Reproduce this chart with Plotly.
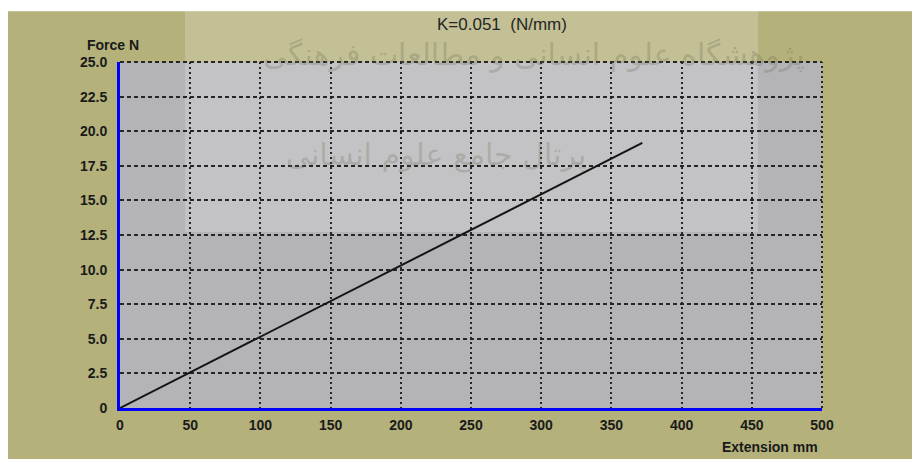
import plotly.graph_objects as go

# Data
extension_mm = [0, 372]
force_n = [0, 19.15]

x_tickvals = [0, 50, 100, 150, 200, 250, 300, 350, 400, 450, 500]
x_ticktext = ["0", "50", "100", "150", "200", "250", "300", "350", "400", "450", "500"]
y_tickvals = [0, 2.5, 5.0, 7.5, 10.0, 12.5, 15.0, 17.5, 20.0, 22.5, 25.0]
y_ticktext = ["0", "2.5", "5.0", "7.5", "10.0", "12.5", "15.0", "17.5", "20.0", "22.5", "25.0"]

title_text = "K=0.051  (N/mm)"
y_label = "Force N"
x_label = "Extension mm"
watermark_1 = "پژوهشگاه علوم انسانی و مطالعات فرهنگی"
watermark_2 = "پرتال جامع علوم انسانی"

OLIVE = "#b4b17b"
PLOT_GRAY = "#b4b4b8"
FONT = "Liberation Sans, Arial, sans-serif"
TXT = "#1a1a1a"
GRID = "#262626"

fig = go.Figure()
fig.add_trace(go.Scatter(
    x=extension_mm, y=force_n, mode="lines",
    line=dict(color="#141414", width=2),
    hoverinfo="skip", showlegend=False,
))

fig.update_layout(
    width=912, height=451,
    margin=dict(l=112, r=98, t=54, b=51),
    paper_bgcolor=OLIVE,
    plot_bgcolor=PLOT_GRAY,
    showlegend=False,
    xaxis=dict(
        range=[0, 500], tickvals=x_tickvals, ticktext=x_ticktext,
        showgrid=True, gridcolor=GRID, griddash="2px,3px", gridwidth=2,
        showline=True, linecolor="#0000ff", linewidth=3,
        zeroline=False, ticks="",
        tickfont=dict(family=FONT, size=14, color=TXT, weight=700),
        ticklabelstandoff=2,
    ),
    yaxis=dict(
        range=[0, 25], tickvals=y_tickvals, ticktext=y_ticktext,
        showgrid=True, gridcolor=GRID, griddash="4px,3px", gridwidth=2,
        showline=True, linecolor="#0000ff", linewidth=3,
        zeroline=False, ticks="",
        tickfont=dict(family=FONT, size=14, color=TXT, weight=700),
        ticklabelstandoff=7,
    ),
    shapes=[
        # lighter watermark band
        dict(type="rect", xref="paper", yref="paper", x0=0.0926, x1=0.909,
             y0=0.509, y1=1.147, fillcolor="rgba(255,255,255,0.2)",
             line=dict(width=0), layer="below"),
        # top and right frame, drawn as grid lines
        dict(type="line", xref="paper", yref="paper", x0=0, x1=1, y0=1, y1=1,
             line=dict(color=GRID, width=2, dash="4px,3px"), layer="above"),
        dict(type="line", xref="paper", yref="paper", x0=1, x1=1, y0=0, y1=1,
             line=dict(color=GRID, width=2, dash="2px,3px"), layer="above"),
        # thin white strip at top edge
        dict(type="rect", xref="paper", yref="paper", x0=-0.2, x1=1.2,
             y0=1.147, y1=1.3, fillcolor="white", line=dict(width=0), layer="above"),
    ],
    annotations=[
        dict(text=title_text, xref="paper", yref="paper", x=0.544, y=1.107,
             xanchor="center", yanchor="middle", showarrow=False,
             font=dict(family=FONT, size=17, color="#262626")),
        dict(text=y_label, xref="paper", yref="paper", x=-0.05, y=1.049,
             xanchor="left", yanchor="middle", showarrow=False,
             font=dict(family=FONT, size=14, color=TXT, weight=700)),
        dict(text=x_label, xref="paper", yref="paper", x=0.997, y=-0.113,
             xanchor="right", yanchor="middle", showarrow=False,
             font=dict(family=FONT, size=14, color=TXT, weight=700)),
        dict(text=watermark_1, xref="paper", yref="paper", x=0.59, y=1.02,
             xanchor="center", yanchor="middle", showarrow=False,
             font=dict(family="DejaVu Sans", size=30, color="rgba(110,110,90,0.3)")),
        dict(text=watermark_2, xref="paper", yref="paper", x=0.45, y=0.73,
             xanchor="center", yanchor="middle", showarrow=False,
             font=dict(family="DejaVu Sans", size=30, color="rgba(110,110,90,0.28)")),
    ],
)

fig.write_html("out.html")
